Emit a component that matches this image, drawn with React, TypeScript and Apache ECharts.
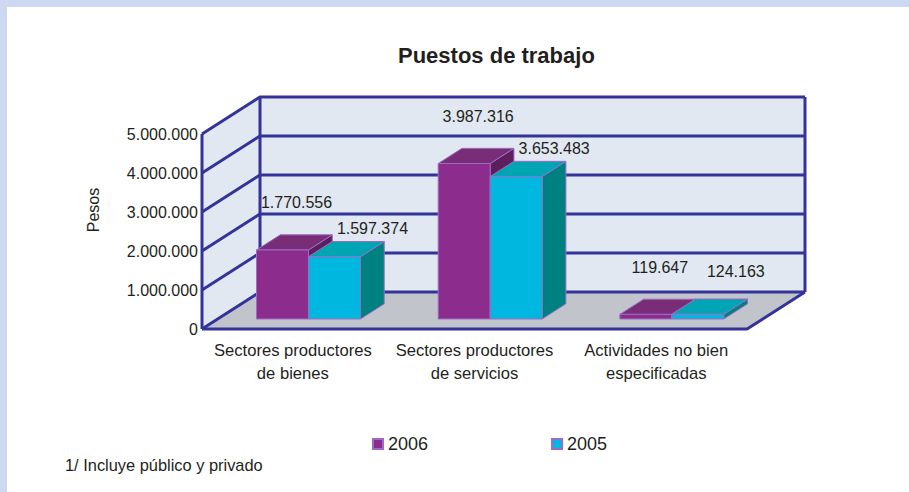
import React, { useEffect, useRef } from "react";
import * as echarts from "echarts";

const categories = [
  "Sectores productores\nde bienes",
  "Sectores productores\nde servicios",
  "Actividades no bien\nespecificadas",
];
const values2006 = [1770556, 3987316, 119647];
const values2005 = [1597374, 3653483, 124163];
const seriesNames = ["2006", "2005"];
const yMax = 5000000;
const yInterval = 1000000;
const yTicks = [0, 1000000, 2000000, 3000000, 4000000, 5000000];

const FONT = "'Liberation Sans', Arial, sans-serif";
const LINE = "#333399";
const DEPTH_X = 58;
const DEPTH_Y = -37;
const F1 = 0.27;
const F2 = 0.68;

const fmt = (v: number) => String(Math.round(v)).replace(/\B(?=(\d{3})+(?!\d))/g, ".");

const palette = [
  { front: "#8C2C8C", top: "#7A2D77", side: "#5C1F5C" },
  { front: "#00B7DF", top: "#00A5B3", side: "#008181" },
];

function barRender(slot: number, labelDx: number, labelDy: number) {
  return (params: any, api: any) => {
    const i = api.value(0);
    const v = api.value(1);
    const base = api.coord([i, 0]);
    const top = api.coord([i, v]);
    const band = api.size([1, 0])[0];
    const bw = band * 0.286;
    const sx = DEPTH_X * F1;
    const sy = DEPTH_Y * F1;
    const x0 = base[0] - bw + slot * bw + sx;
    const x1 = x0 + bw;
    const yb = base[1] + sy;
    const yt = top[1] + sy;
    const dx = DEPTH_X * (F2 - F1);
    const dy = DEPTH_Y * (F2 - F1);
    const c = palette[slot];
    const edge = { stroke: "#9C6CC4", lineWidth: 1 };
    const ly = Math.min(yt + labelDy, yb - 48);
    return {
      type: "group",
      children: [
        { type: "polygon", shape: { points: [[x1, yt], [x1 + dx, yt + dy], [x1 + dx, yb + dy], [x1, yb]] }, style: { fill: c.side, ...edge } },
        { type: "polygon", shape: { points: [[x0, yt], [x1, yt], [x1 + dx, yt + dy], [x0 + dx, yt + dy]] }, style: { fill: c.top, ...edge } },
        { type: "polygon", shape: { points: [[x0, yt], [x1, yt], [x1, yb], [x0, yb]] }, style: { fill: c.front, ...edge } },
        {
          type: "text",
          z2: 10,
          style: {
            text: fmt(v),
            x: (x0 + x1) / 2 + labelDx,
            y: ly,
            align: "center",
            verticalAlign: "middle",
            fill: "#231F20",
            font: `16px ${FONT}`,
          },
        },
      ],
    };
  };
}

function wallsRender(params: any, api: any) {
  const cs = params.coordSys;
  const fx0 = cs.x;
  const fx1 = cs.x + cs.width;
  const fyTop = api.coord([0, yMax])[1];
  const fyBot = api.coord([0, 0])[1];
  const bx0 = fx0 + DEPTH_X;
  const bx1 = fx1 + DEPTH_X;
  const children: any[] = [];
  const ln = { stroke: LINE, lineWidth: 3, fill: null as any, lineJoin: "miter" };
  children.push({ type: "rect", shape: { x: bx0, y: fyTop + DEPTH_Y, width: bx1 - bx0, height: fyBot - fyTop }, style: { fill: "#E1E8F1" } });
  children.push({ type: "polygon", shape: { points: [[fx0, fyTop], [bx0, fyTop + DEPTH_Y], [bx0, fyBot + DEPTH_Y], [fx0, fyBot]] }, style: { fill: "#E1E8F1" } });
  children.push({ type: "polygon", shape: { points: [[fx0, fyBot], [fx1, fyBot], [bx1, fyBot + DEPTH_Y], [bx0, fyBot + DEPTH_Y]] }, style: { fill: "#C1C4CA" } });
  yTicks.forEach((t) => {
    const y = api.coord([0, t])[1];
    children.push({ type: "polyline", shape: { points: [[fx0, y], [bx0, y + DEPTH_Y], [bx1, y + DEPTH_Y]] }, style: ln });
  });
  children.push({ type: "line", shape: { x1: bx0, y1: fyTop + DEPTH_Y, x2: bx0, y2: fyBot + DEPTH_Y }, style: ln });
  children.push({ type: "line", shape: { x1: bx1, y1: fyTop + DEPTH_Y, x2: bx1, y2: fyBot + DEPTH_Y }, style: ln });
  children.push({ type: "line", shape: { x1: fx0, y1: fyTop, x2: fx0, y2: fyBot }, style: ln });
  children.push({ type: "polyline", shape: { points: [[fx0, fyBot], [fx1, fyBot], [bx1, fyBot + DEPTH_Y]] }, style: ln });
  return { type: "group", children };
}

export default function App() {
  const ref = useRef<HTMLDivElement>(null);
  useEffect(() => {
    if (!ref.current) return;
    const chart = echarts.init(ref.current, undefined, { renderer: "svg" });
    chart.setOption({
      animation: false,
      backgroundColor: "#FFFFFF",
      title: {
        text: "Puestos de trabajo",
        left: 393,
        top: 39,
        textStyle: { fontFamily: FONT, fontSize: 22, fontWeight: "bold", color: "#231F20" },
      },
      legend: {
        data: seriesNames,
        left: 367,
        top: 430,
        icon: "rect",
        itemWidth: 10,
        itemHeight: 10,
        itemGap: 123,
        textStyle: { fontFamily: FONT, fontSize: 18, color: "#231F20" },
      },
      grid: { left: 202, top: 134, width: 545, height: 195, containLabel: false },
      xAxis: {
        type: "category",
        data: categories,
        axisLine: { show: false },
        axisTick: { show: false },
        splitLine: { show: false },
        axisLabel: { margin: 10, fontFamily: FONT, fontSize: 16.6, lineHeight: 23, color: "#231F20", interval: 0 },
      },
      yAxis: {
        type: "value",
        min: 0,
        max: yMax,
        interval: yInterval,
        axisLine: { show: false },
        axisTick: { show: false },
        splitLine: { show: false },
        axisLabel: { margin: 4, fontFamily: FONT, fontSize: 16, color: "#231F20", formatter: (v: number) => fmt(v) },
      },
      graphic: [
        { type: "rect", shape: { x: 0, y: 0, width: 909, height: 7 }, style: { fill: "#CDD9F1" } },
        { type: "rect", shape: { x: 0, y: 0, width: 7, height: 492 }, style: { fill: "#CDD9F1" } },
        {
          type: "text",
          x: 93,
          y: 210,
          rotation: Math.PI / 2,
          style: { text: "Pesos", align: "center", verticalAlign: "middle", font: `16px ${FONT}`, fill: "#231F20" },
        },
        {
          type: "text",
          x: 65,
          y: 465,
          style: { text: "1/ Incluye público y privado", align: "left", verticalAlign: "middle", font: `16.4px ${FONT}`, fill: "#231F20" },
        },
      ],
      series: [
        {
          type: "custom",
          name: "walls",
          z: 1,
          silent: true,
          renderItem: wallsRender,
          data: [[0, 0]],
          encode: { x: 0, y: 1 },
        },
        {
          type: "custom",
          name: seriesNames[0],
          z: 2,
          renderItem: barRender(0, 14, -47),
          itemStyle: { color: palette[0].front, borderColor: "#9C6CC4", borderWidth: 1 },
          data: values2006.map((v, i) => [i, v]),
          encode: { x: 0, y: 1 },
        },
        {
          type: "custom",
          name: seriesNames[1],
          z: 3,
          renderItem: barRender(1, 38, -28),
          itemStyle: { color: palette[1].front, borderColor: "#9C6CC4", borderWidth: 1 },
          data: values2005.map((v, i) => [i, v]),
          encode: { x: 0, y: 1 },
        },
      ],
    });
    return () => chart.dispose();
  }, []);
  return <div ref={ref} style={{ position: "absolute", left: 0, top: 0, width: 909, height: 492 }} />;
}
